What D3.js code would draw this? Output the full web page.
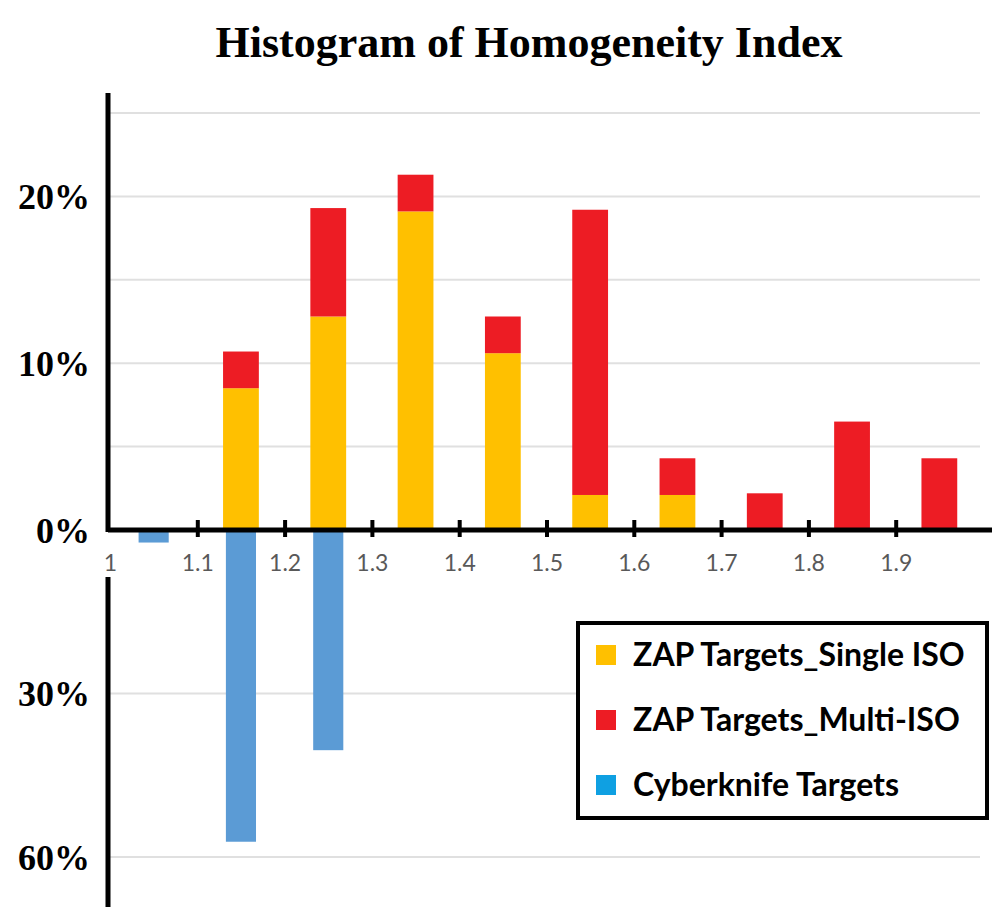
<!DOCTYPE html>
<html>
<head>
<meta charset="utf-8">
<script src="https://cdn.jsdelivr.net/npm/d3@7"></script>
<style>
  body { margin: 0; background: #fff; }
  svg { display: block; }
  .title { font-family: "Liberation Serif", serif; font-weight: bold; font-size: 44px; }
  .y-label { font-family: "Liberation Serif", serif; font-weight: bold; font-size: 36px; }
  .x-label { font-family: Lato, "Open Sans", sans-serif; font-size: 23px; fill: #595959; }
  .legend-label { font-family: Lato, "Open Sans", sans-serif; font-weight: bold; font-size: 32px; }
</style>
</head>
<body>
<svg id="chart" width="1002" height="917"></svg>
<script>
// Data (percent of targets per homogeneity index bin)
const binStarts = [1.0, 1.1, 1.2, 1.3, 1.4, 1.5, 1.6, 1.7, 1.8, 1.9];
const singleIso = [0, 8.5, 12.8, 19.1, 10.6, 2.1, 2.1, 0, 0, 0];
const multiIso = [0, 2.2, 6.5, 2.2, 2.2, 17.1, 2.2, 2.2, 6.5, 4.3];
const cyberknife = [2.3, 57.2, 40.4, 0, 0, 0, 0, 0, 0, 0];

const xTicks = [1.0, 1.1, 1.2, 1.3, 1.4, 1.5, 1.6, 1.7, 1.8, 1.9];
const topGrid = [5, 10, 15, 20, 25];
const topLabels = [0, 10, 20];
const bottomGrid = [30, 60];
const bottomLabels = [30, 60];

const seriesNames = ["ZAP Targets_Single ISO", "ZAP Targets_Multi-ISO", "Cyberknife Targets"];
const seriesColors = ["#ffc000", "#ed1c24", "#5b9bd5"];
const legendColors = ["#ffc000", "#ed1c24", "#0fa0e2"];

// Layout
const axisX = 108;
const zeroY = 530;

const svg = d3.select("#chart");

// Scales
const x = d3.scaleLinear().domain([1.0, 2.0]).range([110, 983]);
const yTop = d3.scaleLinear().domain([0, 25]).range([zeroY, 113]);
const yBottom = d3.scaleLinear().domain([0, 60]).range([zeroY, 857]);
const binW = x(1.1) - x(1.0);

// Title
svg.append("text")
  .attr("class", "title")
  .attr("x", 529)
  .attr("y", 57)
  .attr("text-anchor", "middle")
  .text("Histogram of Homogeneity Index");

// Gridlines
svg.selectAll("line.grid-top")
  .data(topGrid)
  .enter()
  .append("line")
  .attr("class", "grid-top")
  .attr("x1", axisX + 2)
  .attr("x2", 980)
  .attr("y1", (d) => yTop(d))
  .attr("y2", (d) => yTop(d))
  .attr("stroke", "#e0e0e0")
  .attr("stroke-width", 2);

svg.selectAll("line.grid-bottom")
  .data(bottomGrid)
  .enter()
  .append("line")
  .attr("class", "grid-bottom")
  .attr("x1", axisX + 2)
  .attr("x2", 980)
  .attr("y1", (d) => yBottom(d))
  .attr("y2", (d) => yBottom(d))
  .attr("stroke", "#e0e0e0")
  .attr("stroke-width", 2);

// Stacked bars (top part)
const bins = binStarts.map((b, i) => ({
  start: b,
  single: singleIso[i],
  multi: multiIso[i],
  cyber: cyberknife[i],
}));

const stackW = binW * 0.41;
const cyberW = binW * 0.345;

svg.selectAll("rect.single")
  .data(bins.filter((d) => d.single > 0))
  .enter()
  .append("rect")
  .attr("class", "single")
  .attr("x", (d) => x(d.start + 0.05) - stackW / 2)
  .attr("width", stackW)
  .attr("y", (d) => yTop(d.single))
  .attr("height", (d) => zeroY - yTop(d.single))
  .attr("fill", seriesColors[0]);

svg.selectAll("rect.multi")
  .data(bins.filter((d) => d.multi > 0))
  .enter()
  .append("rect")
  .attr("class", "multi")
  .attr("x", (d) => x(d.start + 0.05) - stackW / 2)
  .attr("width", stackW)
  .attr("y", (d) => yTop(d.single + d.multi))
  .attr("height", (d) => yTop(d.single) - yTop(d.single + d.multi))
  .attr("fill", seriesColors[1]);

// Cyberknife bars hang below the axis
svg.selectAll("rect.cyber")
  .data(bins.filter((d) => d.cyber > 0))
  .enter()
  .append("rect")
  .attr("class", "cyber")
  .attr("x", (d) => x(d.start + 0.05) - cyberW / 2)
  .attr("width", cyberW)
  .attr("y", zeroY + 2)
  .attr("height", (d) => yBottom(d.cyber) - zeroY - 2)
  .attr("fill", seriesColors[2]);

// X axis
const xAxis = d3.axisBottom(x)
  .tickValues(xTicks)
  .tickFormat((d) => (d === 1 ? "1" : d.toFixed(1)))
  .tickSizeOuter(0);

const xg = svg.append("g")
  .attr("transform", `translate(0,${zeroY})`)
  .call(xAxis)
  .attr("font-size", null)
  .attr("font-family", null);

xg.select(".domain").remove();
xg.append("line")
  .attr("x1", axisX)
  .attr("x2", 992)
  .attr("stroke", "#000")
  .attr("stroke-width", 5);
xg.selectAll(".tick line")
  .attr("y1", -10)
  .attr("y2", 7)
  .attr("stroke", "#000")
  .attr("stroke-width", 4);
xg.selectAll(".tick text")
  .attr("class", "x-label")
  .attr("y", 33)
  .attr("dy", "0.35em");
xg.selectAll(".tick").filter((d) => d === 1).select("line").remove();

// Y axis lines (split around x labels)
svg.append("line")
  .attr("x1", axisX).attr("x2", axisX)
  .attr("y1", yTop(26.2)).attr("y2", zeroY + 2)
  .attr("stroke", "#000").attr("stroke-width", 5);

svg.append("line")
  .attr("x1", axisX).attr("x2", axisX)
  .attr("y1", 577).attr("y2", 907)
  .attr("stroke", "#000").attr("stroke-width", 5);

// Y labels
svg.selectAll("text.y-top")
  .data(topLabels)
  .enter()
  .append("text")
  .attr("class", "y-label")
  .attr("x", 90)
  .attr("y", (d) => yTop(d))
  .attr("dy", "0.35em")
  .attr("text-anchor", "end")
  .text((d) => `${d}%`);

svg.selectAll("text.y-bottom")
  .data(bottomLabels)
  .enter()
  .append("text")
  .attr("class", "y-label")
  .attr("x", 90)
  .attr("y", (d) => yBottom(d))
  .attr("dy", "0.35em")
  .attr("text-anchor", "end")
  .text((d) => `${d}%`);

// Legend
const legend = svg.append("g").attr("transform", "translate(578,623)");

legend.append("rect")
  .attr("width", 409)
  .attr("height", 195)
  .attr("fill", "#fff")
  .attr("stroke", "#000")
  .attr("stroke-width", 4);

const items = legend.selectAll("g.item")
  .data(seriesNames)
  .enter()
  .append("g")
  .attr("class", "item")
  .attr("transform", (d, i) => `translate(0,${32 + i * 65})`);

items.append("rect")
  .attr("x", 18)
  .attr("y", -10)
  .attr("width", 20)
  .attr("height", 20)
  .attr("fill", (d, i) => legendColors[i]);

items.append("text")
  .attr("class", "legend-label")
  .attr("x", 55)
  .attr("dy", "0.35em")
  .text((d) => d);
</script>
</body>
</html>
